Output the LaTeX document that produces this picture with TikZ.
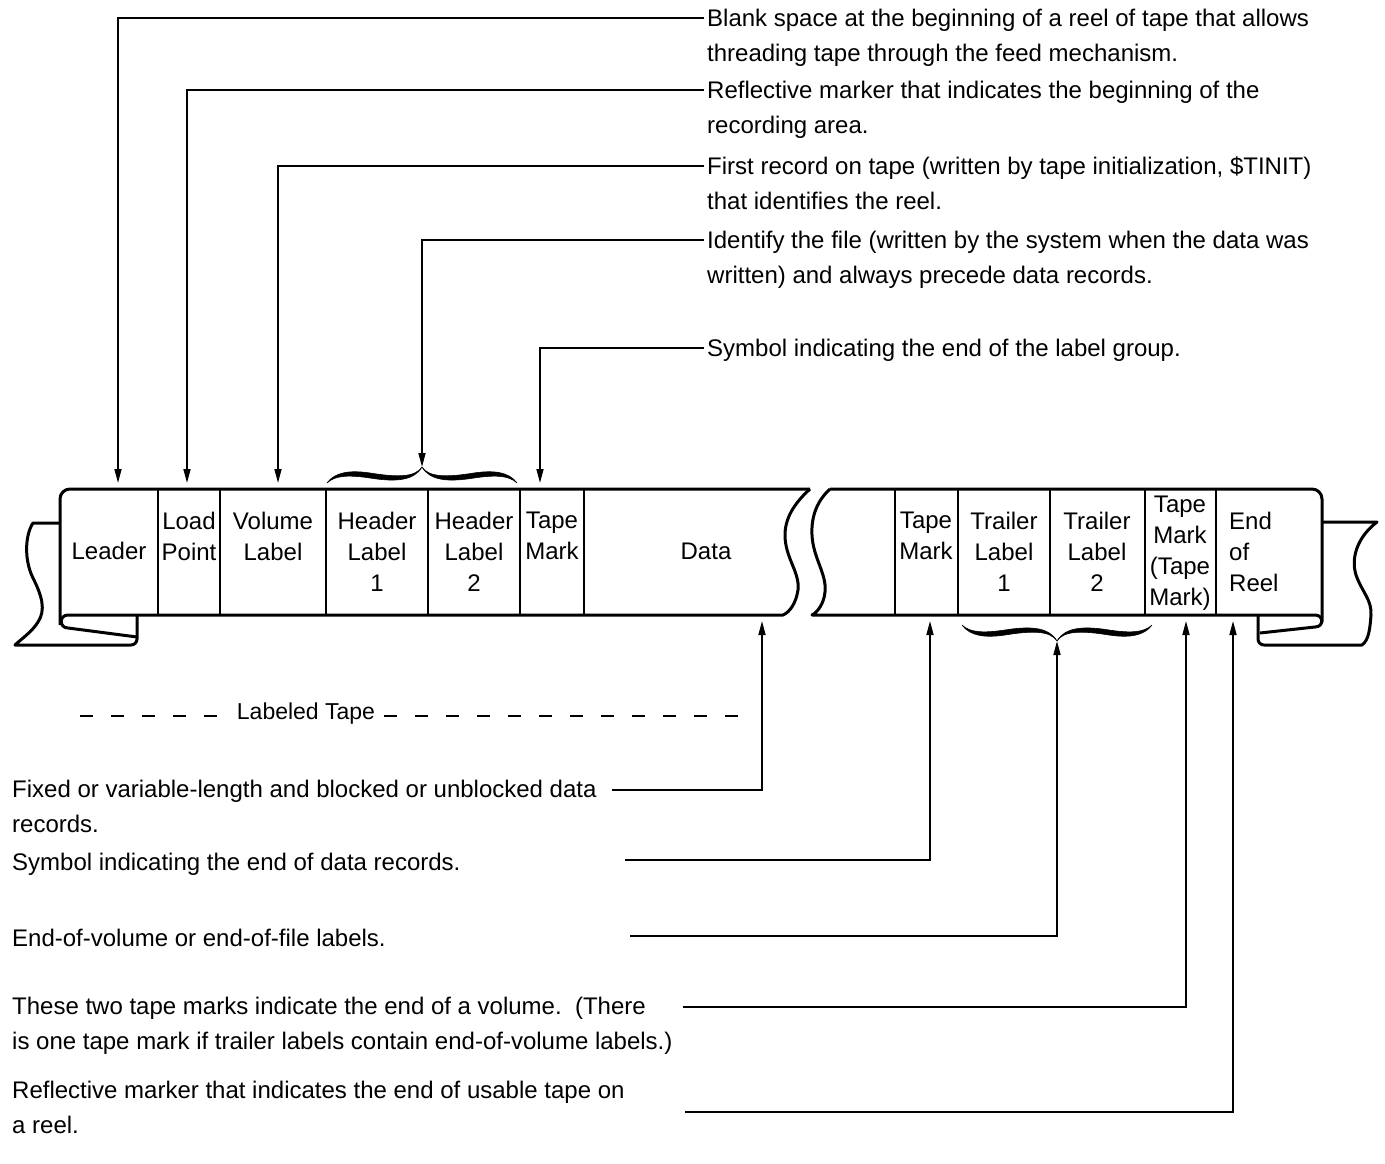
\documentclass[tikz,border=0pt]{standalone}
\usepackage{fontspec}
\setmainfont{Liberation Sans}
\usetikzlibrary{arrows.meta}

\begin{document}
\begin{tikzpicture}[x=1pt,y=-1pt,
    tape/.style={line width=3pt,line join=round},
    divider/.style={line width=1.6pt},
    cell/.style={align=center,inner sep=0pt,font=\fontsize{24}{31}\selectfont},
    note/.style={anchor=north west,align=left,inner xsep=3pt,inner ysep=0pt,font=\fontsize{24}{34.5}\selectfont},
    callout/.style={line width=1.6pt,-{Triangle[length=14pt,width=7pt]}},
    bracehalf/.style={fill=black,draw=black,line width=0.6pt},
    tapedash/.style={line width=1.5pt,dash pattern=on 13pt off 18pt}]
      \useasboundingbox (0,0) rectangle (1385,1164);

      % left piece of tape
      \draw[tape,rounded corners=10pt] (60,625) -- (60,489) -- (810,489);
      \draw[tape] (810,489) .. controls (798,500) and (785,515) .. (785,535)
        .. controls (785,558) and (800,572) .. (798,590)
        .. controls (796,603) and (790,612) .. (783,615) -- (68,615)
        .. controls (59,615) and (59,628) .. (68,628) -- (137,637);
      \draw[tape] (60,523) -- (33,523) .. controls (25,535) and (24,560) .. (33,578)
        .. controls (42,596) and (46,610) .. (38,622)
        .. controls (32,632) and (20,640) .. (15,645)
        [rounded corners=6pt] -- (137,645) -- (137,615);

      % right piece of tape
      \draw[tape,rounded corners=10pt] (830,489) -- (1322,489) -- (1322,622);
      \draw[tape] (830,489) .. controls (818,500) and (811,515) .. (812,535)
        .. controls (813,558) and (827,574) .. (825,592)
        .. controls (824,603) and (818,612) .. (812,615) -- (1315,615)
        .. controls (1324,615) and (1324,627) .. (1315,627) -- (1260,633);
      \draw[tape] (1322,522) -- (1377,522) .. controls (1360,535) and (1350,555) .. (1356,575)
        .. controls (1362,592) and (1372,600) .. (1371,615)
        .. controls (1370,628) and (1369,640) .. (1362,645)
        [rounded corners=6pt] -- (1258,645) -- (1258,615);

      \foreach \x in {158,220,326,428,520,584,895,958,1050,1145,1216}
        \draw[divider] (\x,489) -- (\x,615);

      % cells
      \node[cell] (cLeader) at (109,551) {Leader};
      \node[cell] (cLoad) at (189,536) {Load\\Point};
      \node[cell] (cVol) at (273,536) {Volume\\Label};
      \node[cell] (cHdr1) at (377,552) {Header\\Label\\1};
      \node[cell] (cHdr2) at (474,552) {Header\\Label\\2};
      \node[cell] (cTM1) at (552,536) {Tape\\Mark};
      \node[cell] (cData) at (706,551) {Data};
      \node[cell] (cTM2) at (926,536) {Tape\\Mark};
      \node[cell] (cTrl1) at (1004,552) {Trailer\\Label\\1};
      \node[cell] (cTrl2) at (1097,552) {Trailer\\Label\\2};
      \node[cell] (cTM3) at (1180,553) {Tape\\Mark\\(Tape\\Mark)};
      \node[cell,align=left,anchor=west] (cEOR) at (1229,552) {End\\of\\Reel};

      % braces over the header labels and under the trailer labels
      \coordinate (hdrTip) at (422,467);
      \coordinate (trlTip) at (1057,641);
      \foreach \s in {1,-1} {
        \fill[bracehalf,shift={(hdrTip)},xscale=\s] (-95,16) .. controls (-87,5) and (-72,3) .. (-52,6)
          .. controls (-27,10) and (-7,11) .. (0,0) .. controls (-8,14) and (-27,15) .. (-52,11)
          .. controls (-72,8) and (-87,8) .. cycle;
        \fill[bracehalf,shift={(trlTip)},xscale=\s,yscale=-1] (-95,16) .. controls (-87,5) and (-72,3) .. (-52,6)
          .. controls (-27,10) and (-7,11) .. (0,0) .. controls (-8,14) and (-27,15) .. (-52,11)
          .. controls (-72,8) and (-87,8) .. cycle;
      }

      % notes above the tape
      \node[note] (nBlank) at (704,9) {Blank space at the beginning of a reel of tape that allows\\threading tape through the feed mechanism.};
      \node[note] (nLoad) at (704,81) {Reflective marker that indicates the beginning of the\\recording area.};
      \node[note] (nVol) at (704,157) {First record on tape (written by tape initialization, \$TINIT)\\that identifies the reel.};
      \node[note] (nHdr) at (704,231) {Identify the file (written by the system when the data was\\written) and always precede data records.};
      \node[note] (nLblEnd) at (704,339) {Symbol indicating the end of the label group.};

      \coordinate (tLeader) at (118,483);
      \coordinate (tLoad) at (187,483);
      \coordinate (tVol) at (278,483);
      \coordinate (tTM1) at (540,483);
      \draw[callout] ([yshift=-9pt]nBlank.north west) -| (tLeader);
      \draw[callout] ([yshift=-9pt]nLoad.north west) -| (tLoad);
      \draw[callout] ([yshift=-9pt]nVol.north west) -| (tVol);
      \draw[callout] ([yshift=-9pt]nHdr.north west) -| (hdrTip);
      \draw[callout] ([yshift=-9pt]nLblEnd.north west) -| (tTM1);

      % labeled tape
      \node[inner sep=0pt,font=\fontsize{23}{28}\selectfont] (lblTape) at (306,714) {Labeled Tape};
      \draw[tapedash] (80,716) -- ([xshift=-8pt]lblTape.west |- 0,716);
      \draw[tapedash] ([xshift=9pt]lblTape.east |- 0,716) -- (745,716);

      % notes below the tape
      \node[note] (nData) at (9,780) {Fixed or variable-length and blocked or unblocked data\\records.};
      \node[note] (nDataEnd) at (9,853) {Symbol indicating the end of data records.};
      \node[note] (nTrl) at (9,929) {End-of-volume or end-of-file labels.};
      \node[note] (nTwo) at (9,997) {These two tape marks indicate the end of a volume.\ \ (There\\is one tape mark if trailer labels contain end-of-volume labels.)};
      \node[note] (nUsable) at (9,1081) {Reflective marker that indicates the end of usable tape on\\a reel.};

      \coordinate (fData) at (612,790);
      \coordinate (fDataEnd) at (625,860);
      \coordinate (fTrl) at (630,936);
      \coordinate (fTwo) at (683,1007);
      \coordinate (fUsable) at (685,1112);
      \coordinate (tData) at (762,621);
      \coordinate (tTM2) at (930,621);
      \coordinate (tTM3) at (1186,621);
      \coordinate (tEOR) at (1233,621);
      \draw[callout] (fData) -| (tData);
      \draw[callout] (fDataEnd) -| (tTM2);
      \draw[callout] (fTrl) -| (trlTip);
      \draw[callout] (fTwo) -| (tTM3);
      \draw[callout] (fUsable) -| (tEOR);
    \end{tikzpicture}
\end{document}
